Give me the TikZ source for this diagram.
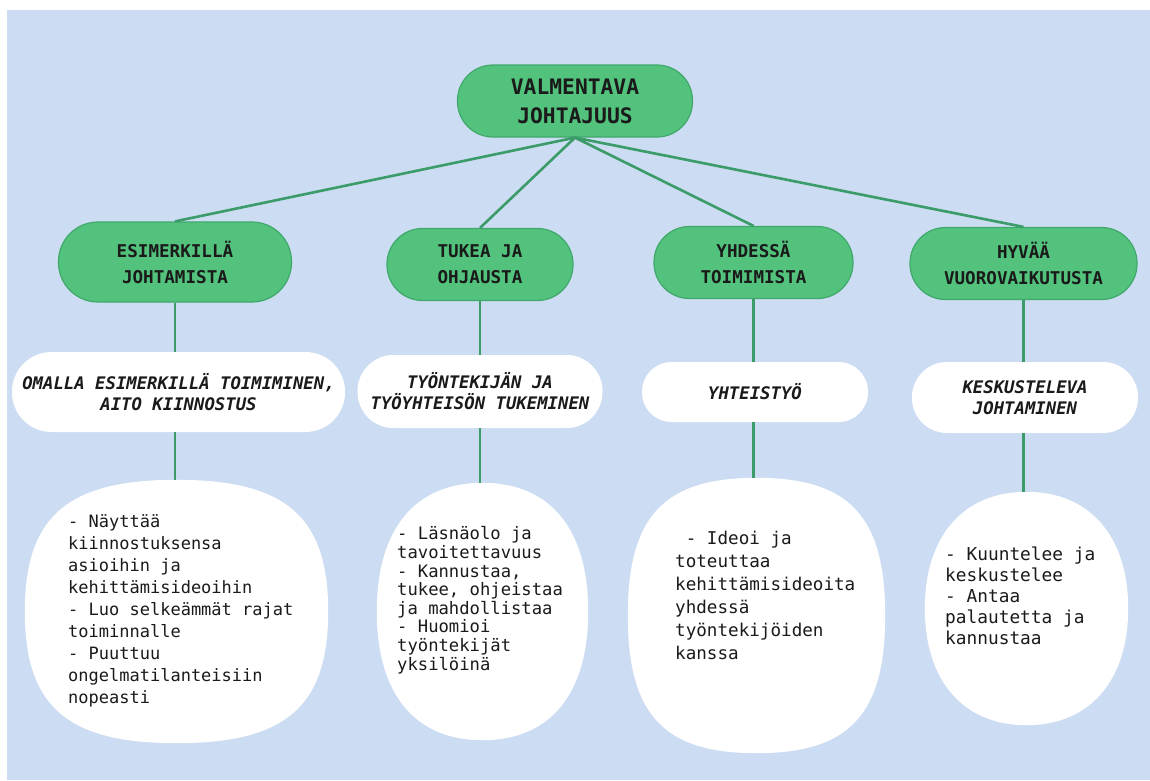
\documentclass[tikz,border=0pt]{standalone}
\usepackage{fontspec}
\newfontfamily\monof{DejaVu Sans Mono}
\usetikzlibrary{calc}
\definecolor{bgblue}{HTML}{CCDCF2}
\definecolor{gfill}{HTML}{52C27C}
\definecolor{gdraw}{HTML}{40A86B}
\definecolor{gline}{HTML}{3B9C69}
\definecolor{ink}{HTML}{1A1A1A}
\tikzset{
  topbox/.style={fill=gfill, draw=gdraw, line width=1.2pt, text=ink, align=center, inner sep=0pt,
    font=\monof\bfseries\fontsize{21.3}{29}\selectfont},
  catbox/.style={fill=gfill, draw=gdraw, line width=1.2pt, text=ink, align=center, inner sep=0pt,
    font=\monof\bfseries\fontsize{17.6}{26}\selectfont},
  subbox/.style={fill=white, draw=none, text=ink, align=center, inner sep=0pt,
    font=\monof\bfseries\itshape\fontsize{17.3}{21}\selectfont},
  blob/.style={draw=none, fill=none, inner sep=0pt},
  blobtext/.style={text=ink, align=left, inner sep=0pt, anchor=north west},
  conn/.style={draw=gline, line width=2.6pt}
}
% superellipse-like white fill inside the bounds of a named node
\newcommand{\blobfill}[2]{%
  \fill[white] (#1.east)
    .. controls ($(#1.east)!#2!(#1.north east)$) and ($(#1.north)!#2!(#1.north east)$) .. (#1.north)
    .. controls ($(#1.north)!#2!(#1.north west)$) and ($(#1.west)!#2!(#1.north west)$) .. (#1.west)
    .. controls ($(#1.west)!#2!(#1.south west)$) and ($(#1.south)!#2!(#1.south west)$) .. (#1.south)
    .. controls ($(#1.south)!#2!(#1.south east)$) and ($(#1.east)!#2!(#1.south east)$) .. (#1.east) -- cycle;}
\begin{document}
\begin{tikzpicture}[x=1pt,y=-1pt]
\useasboundingbox (0,0) rectangle (1150,780);
\fill[white] (0,0) rectangle (1150,780);
\fill[bgblue] (7,10) rectangle (1150,780);

% top
\node[topbox, minimum width=235pt, minimum height=72pt, rounded corners=35.5pt] (top) at (575,101) {VALMENTAVA\\JOHTAJUUS};

% level 2
\node[catbox, minimum width=233pt, minimum height=80pt, rounded corners=39.5pt] (c1) at (175,262) {ESIMERKILLÄ\\JOHTAMISTA};
\node[catbox, minimum width=186pt, minimum height=72pt, rounded corners=35.5pt] (c2) at (480,264.5) {TUKEA JA\\OHJAUSTA};
\node[catbox, minimum width=199pt, minimum height=72pt, rounded corners=35.5pt] (c3) at (753.5,262.5) {YHDESSÄ\\TOIMIMISTA};
\node[catbox, minimum width=227pt, minimum height=72pt, rounded corners=35.5pt] (c4) at (1023.5,263.5) {HYVÄÄ\\VUOROVAIKUTUSTA};

% level 3
\node[subbox, minimum width=333pt, minimum height=80pt, rounded corners=39.5pt] (s1) at (178.5,392) {OMALLA ESIMERKILLÄ TOIMIMINEN,\\AITO KIINNOSTUS};
\node[subbox, minimum width=245pt, minimum height=73pt, rounded corners=36pt] (s2) at (480,391.5) {TYÖNTEKIJÄN JA\\TYÖYHTEISÖN TUKEMINEN};
\node[subbox, minimum width=226pt, minimum height=60pt, rounded corners=29.5pt] (s3) at (755,392) {YHTEISTYÖ};
\node[subbox, minimum width=226pt, minimum height=71pt, rounded corners=35pt] (s4) at (1025,397.5) {KESKUSTELEVA\\JOHTAMINEN};

% level 4
\node[blob, minimum width=303pt, minimum height=263pt] (b1) at (176.5,611.5) {};
\node[blob, minimum width=211pt, minimum height=257pt] (b2) at (482.5,611.5) {};
\node[blob, minimum width=257pt, minimum height=275pt] (b3) at (756.5,615.5) {};
\node[blob, minimum width=203pt, minimum height=233pt] (b4) at (1026.5,608.5) {};
\blobfill{b1}{0.72}
\blobfill{b2}{0.64}
\blobfill{b3}{0.72}
\blobfill{b4}{0.62}

\node[blobtext, font=\monof\fontsize{17}{22}\selectfont] (t1) at (68,514)
  {- Näyttää\\kiinnostuksensa\\asioihin ja\\kehittämisideoihin\\- Luo selkeämmät rajat\\toiminnalle\\- Puuttuu\\ongelmatilanteisiin\\nopeasti};
\node[blobtext, font=\monof\fontsize{17.2}{18.6}\selectfont] (t2) at (397,526.5)
  {- Läsnäolo ja\\tavoitettavuus\\- Kannustaa,\\tukee, ohjeistaa\\ja mahdollistaa\\- Huomioi\\työntekijät\\yksilöinä};
\node[blobtext, font=\monof\fontsize{17.6}{23}\selectfont] (t3) at (675,530.5)
  {\hphantom{-}- Ideoi ja\\toteuttaa\\kehittämisideoita\\yhdessä\\työntekijöiden\\kanssa};
\node[blobtext, font=\monof\fontsize{17.8}{21}\selectfont] (t4) at (945,547)
  {- Kuuntelee ja\\keskustelee\\- Antaa\\palautetta ja\\kannustaa};

% connectors
\draw[conn] (top.south) -- (c1.north);
\draw[conn] (top.south) -- (c2.north);
\draw[conn] (top.south) -- (c3.north);
\draw[conn] (top.south) -- (c4.north);
\foreach \i in {1,2,3,4}{
  \draw[conn] (c\i.south) -- (c\i.south |- s\i.north);
  \draw[conn] (c\i.south |- s\i.south) -- (c\i.south |- b\i.north);
}
\end{tikzpicture}
\end{document}
